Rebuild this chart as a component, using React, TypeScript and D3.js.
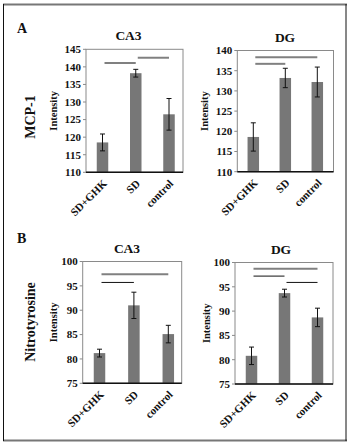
import React from "react";
import * as d3 from "d3";

// groups on the x axis
const groups = ["SD+GHK", "SD", "control"];

// MCP-1 intensity (mean, error)
const mcpCA3Mean = [118.5, 138.2, 126.5];
const mcpCA3Err = [2.4, 1.1, 4.5];
const mcpDGMean = [118.6, 133.2, 132.2];
const mcpDGErr = [3.5, 2.4, 3.7];

// Nitrotyrosine intensity (mean, error)
const nitCA3Mean = [81.2, 91.0, 85.1];
const nitCA3Err = [0.8, 2.7, 1.8];
const nitDGMean = [80.8, 93.7, 88.7];
const nitDGErr = [1.8, 0.8, 1.9];

// y ticks
const mcpCA3Ticks = [110, 115, 120, 125, 130, 135, 140, 145];
const mcpDGTicks = [110, 115, 120, 125, 130, 135, 140];
const nitTicks = [75, 80, 85, 90, 95, 100];

// significance bars: [from, to, level]
const mcpCA3Sig: [number, number, number][] = [[0, 1, 141.1], [1, 2, 142.6]];
const mcpDGSig: [number, number, number][] = [[0, 2, 138.3], [0, 1, 136.7]];
const nitCA3Sig: [number, number, number][] = [[0, 2, 97.4], [0, 1, 95.7]];
const nitDGSig: [number, number, number][] = [[0, 2, 98.7], [0, 1, 97.2], [1, 2, 95.9]];

const FONT = "'Liberation Serif', 'Times New Roman', serif";
const BAR = "#777777";
const SIG_GREY = "#808080";

interface PanelProps {
  title: string;
  titleX: number;
  box: { left: number; right: number; top: number; bottom: number };
  centers: [number, number];
  means: number[];
  errs: number[];
  ticks: number[];
  sig: [number, number, number][];
  thinFrom: number; // sig lines from this index on are thin black
  labelX: number;
}

const Panel: React.FC<PanelProps> = ({
  title,
  titleX,
  box,
  centers,
  means,
  errs,
  ticks,
  sig,
  thinFrom,
  labelX,
}) => {
  const x = d3.scalePoint<string>().domain(groups).range(centers);
  const y = d3
    .scaleLinear()
    .domain([ticks[0], ticks[ticks.length - 1]])
    .range([box.bottom, box.top]);
  const barW = 11.5;

  return (
    <g>
      <text
        x={titleX}
        y={box.top - 9}
        textAnchor="middle"
        fontFamily={FONT}
        fontWeight="bold"
        fontSize={13.5}
        fill="#111"
      >
        {title}
      </text>
      {/* plot box */}
      <rect
        x={box.left}
        y={box.top}
        width={box.right - box.left}
        height={box.bottom - box.top}
        fill="none"
        stroke="#8a8a8a"
        strokeWidth={1}
      />
      {/* y ticks */}
      {ticks.map((t) => (
        <g key={t}>
          <line
            x1={box.left - 3}
            x2={box.left}
            y1={y(t)}
            y2={y(t)}
            stroke="#8a8a8a"
          />
          <text
            x={box.left - 5}
            y={y(t)}
            dy="0.35em"
            textAnchor="end"
            fontFamily={FONT}
            fontWeight="bold"
            fontSize={11}
            fill="#111"
          >
            {t}
          </text>
        </g>
      ))}
      <text
        transform={`translate(${labelX}, ${(box.top + box.bottom) / 2}) rotate(-90)`}
        textAnchor="middle"
        dy="0.35em"
        fontFamily={FONT}
        fontWeight="bold"
        fontSize={10.5}
        fill="#111"
      >
        Intensity
      </text>
      {/* bars */}
      {groups.map((g, i) => {
        const cx = x(g)!;
        return (
          <g key={g}>
            <rect
              x={cx - barW / 2}
              y={y(means[i])}
              width={barW}
              height={box.bottom - y(means[i])}
              fill={BAR}
            />
            <line
              x1={cx}
              x2={cx}
              y1={y(means[i] + errs[i])}
              y2={y(means[i] - errs[i])}
              stroke="#111"
              strokeWidth={1}
            />
            <line
              x1={cx - 2.5}
              x2={cx + 2.5}
              y1={y(means[i] + errs[i])}
              y2={y(means[i] + errs[i])}
              stroke="#111"
            />
            <line
              x1={cx - 2.5}
              x2={cx + 2.5}
              y1={y(means[i] - errs[i])}
              y2={y(means[i] - errs[i])}
              stroke="#111"
            />
          </g>
        );
      })}
      {/* rotated category labels */}
      {groups.map((g) => (
        <g key={"lbl" + g} transform={`translate(${x(g)! + 5}, ${box.bottom + 12})`}>
          <g transform="rotate(-45)">
            <text
              x={0}
              y={0}
              textAnchor="end"
              fontFamily={FONT}
              fontWeight="bold"
              fontSize={11}
              fill="#111"
            >
              {g}
            </text>
          </g>
        </g>
      ))}
      {/* x axis */}
      <line
        x1={box.left}
        x2={box.right}
        y1={box.bottom}
        y2={box.bottom}
        stroke="#111"
        strokeWidth={1.5}
      />
      {/* significance lines */}
      {sig.map(([a, b, v], k) => (
        <line
          key={k}
          x1={x(groups[a])! + 2}
          x2={x(groups[b])!}
          y1={y(v)}
          y2={y(v)}
          stroke={k >= thinFrom ? "#111" : SIG_GREY}
          strokeWidth={k >= thinFrom ? 1 : 2}
        />
      ))}
    </g>
  );
};

export default function App() {
  return (
    <svg
      width={352}
      height={445}
      style={{ position: "absolute", left: 0, top: 0, background: "#fff" }}
    >
      {/* outer frame */}
      <line x1={3} x2={347} y1={4.5} y2={4.5} stroke="#777" strokeWidth={2} />
      <line x1={3} x2={347} y1={440.5} y2={440.5} stroke="#777" strokeWidth={2} />
      <line x1={3.5} x2={3.5} y1={4} y2={441} stroke="#111" strokeWidth={1} />
      <line x1={346} x2={346} y1={4} y2={441} stroke="#111" strokeWidth={1} />

      <text x={17} y={33} fontFamily={FONT} fontWeight="bold" fontSize={14} fill="#111">
        A
      </text>
      <text x={17} y={243} fontFamily={FONT} fontWeight="bold" fontSize={14} fill="#111">
        B
      </text>

      <text
        transform="translate(30, 117) rotate(-90)"
        textAnchor="middle"
        dy="0.35em"
        fontFamily={FONT}
        fontWeight="bold"
        fontSize={14}
        fill="#111"
      >
        MCP-1
      </text>
      <text
        transform="translate(30, 322) rotate(-90)"
        textAnchor="middle"
        dy="0.35em"
        fontFamily={FONT}
        fontWeight="bold"
        fontSize={14}
        fill="#111"
      >
        Nitrotyrosine
      </text>

      <Panel
        title="CA3"
        titleX={128.5}
        box={{ left: 86, right: 183, top: 49.3, bottom: 172.3 }}
        centers={[102.5, 169]}
        means={mcpCA3Mean}
        errs={mcpCA3Err}
        ticks={mcpCA3Ticks}
        sig={mcpCA3Sig}
        thinFrom={9}
        labelX={53.5}
      />
      <Panel
        title="DG"
        titleX={285}
        box={{ left: 237.3, right: 333.5, top: 50.5, bottom: 171.7 }}
        centers={[253.3, 317.3]}
        means={mcpDGMean}
        errs={mcpDGErr}
        ticks={mcpDGTicks}
        sig={mcpDGSig}
        thinFrom={9}
        labelX={204}
      />
      <Panel
        title="CA3"
        titleX={127}
        box={{ left: 82.7, right: 181.7, top: 261.5, bottom: 383.3 }}
        centers={[99.5, 168.3]}
        means={nitCA3Mean}
        errs={nitCA3Err}
        ticks={nitTicks}
        sig={nitCA3Sig}
        thinFrom={1}
        labelX={53}
      />
      <Panel
        title="DG"
        titleX={281}
        box={{ left: 235, right: 333, top: 262.5, bottom: 384 }}
        centers={[251.5, 317.5]}
        means={nitDGMean}
        errs={nitDGErr}
        ticks={nitTicks}
        sig={nitDGSig}
        thinFrom={1}
        labelX={206}
      />
    </svg>
  );
}
